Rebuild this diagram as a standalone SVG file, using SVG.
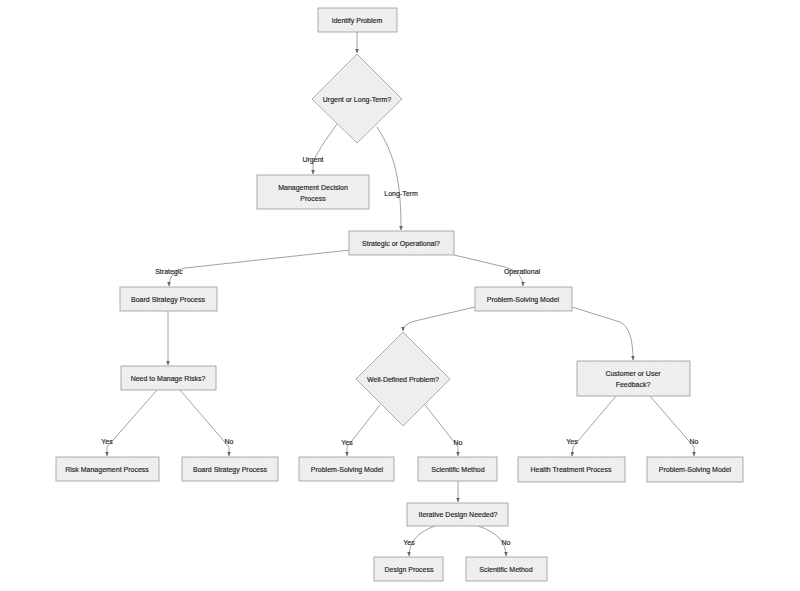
<svg xmlns="http://www.w3.org/2000/svg" width="800" height="591" viewBox="0 0 800 591">
<defs>
<pattern id="hatch" width="3" height="3" patternUnits="userSpaceOnUse" patternTransform="rotate(-45)">
<rect width="3" height="3" fill="#f1f1f1"/>
<line x1="0" y1="0" x2="0" y2="3" stroke="#d9d9d9" stroke-width="0.7"/>
</pattern>
<marker id="arr" viewBox="0 0 10 10" refX="9" refY="5" markerWidth="5.5" markerHeight="5.5" orient="auto">
<path d="M0,1 L10,5 L0,9 z" fill="#666"/>
</marker>
</defs>
<style>
.n rect,.n polygon{fill:url(#hatch);stroke:#9a9a9a;stroke-width:0.8}
.n text,.lb{font-family:"Liberation Sans",Arial,sans-serif;font-size:7px;fill:#222;stroke:#222;stroke-width:0.15;text-anchor:middle;dominant-baseline:central}
.e path{fill:none;stroke:#8a8a8a;stroke-width:0.8;marker-end:url(#arr)}
</style>
<rect width="800" height="591" fill="#fff"/>
<g class="e" id="connectors">
<path d="M357,32 L357,53"/>
<path d="M337,124 Q318,150 313,162 L313,174"/>
<path d="M377,127 C395,155 401,180 401,230"/>
<path d="M350,250 L185,268 Q169,271 169,286"/>
<path d="M454,255 L505,267 Q523,272 523,286"/>
<path d="M168,311 L168,365"/>
<path d="M157,390 L107,447 L107,456"/>
<path d="M180,390 L229,447 L229,456"/>
<path d="M475,307 L415,321 Q403,324 403,331"/>
<path d="M572,307 L620,322 Q633,328 633,360"/>
<path d="M380,405 L347,447 L347,456"/>
<path d="M425,405 L458,447 L458,456"/>
<path d="M616,396 L573,447 L572,456"/>
<path d="M650,396 L694,447 L694,456"/>
<path d="M458,481 L458,502"/>
<path d="M435,526 Q409,535 409,556"/>
<path d="M478,526 Q506,535 506,556"/>
</g>
<g id="edge-labels">
<text class="lb" x="313" y="159">Urgent</text>
<text class="lb" x="401" y="193">Long-Term</text>
<text class="lb" x="169" y="271">Strategic</text>
<text class="lb" x="522" y="271">Operational</text>
<text class="lb" x="107" y="441">Yes</text>
<text class="lb" x="229" y="441">No</text>
<text class="lb" x="347" y="442">Yes</text>
<text class="lb" x="458" y="442">No</text>
<text class="lb" x="572" y="441">Yes</text>
<text class="lb" x="694" y="441">No</text>
<text class="lb" x="409" y="542">Yes</text>
<text class="lb" x="506" y="542">No</text>
</g>
<g class="n" id="identify"><rect x="318" y="8" width="79" height="24"/><text x="357" y="20">Identify Problem</text></g>
<g class="n" id="urgent"><polygon points="357,54 402,99 357,143 312,99"/><text x="357" y="99">Urgent or Long-Term?</text></g>
<g class="n" id="mgmt"><rect x="257" y="175" width="112" height="34"/><text x="313" y="187">Management Decision</text><text x="313" y="198">Process</text></g>
<g class="n" id="stratop"><rect x="349" y="231" width="105" height="24"/><text x="401" y="243">Strategic or Operational?</text></g>
<g class="n" id="board1"><rect x="120" y="287" width="97" height="24"/><text x="168" y="299">Board Strategy Process</text></g>
<g class="n" id="psm1"><rect x="475" y="287" width="97" height="24"/><text x="523" y="299">Problem-Solving Model</text></g>
<g class="n" id="risks"><rect x="121" y="366" width="95" height="24"/><text x="168" y="378">Need to Manage Risks?</text></g>
<g class="n" id="welldef"><polygon points="403,332 450,379 403,426 356,379"/><text x="403" y="379">Well-Defined Problem?</text></g>
<g class="n" id="cust"><rect x="577" y="361" width="113" height="35"/><text x="633" y="373">Customer or User</text><text x="633" y="384">Feedback?</text></g>
<g class="n" id="riskmgmt"><rect x="56" y="457" width="103" height="24"/><text x="107" y="469">Risk Management Process</text></g>
<g class="n" id="board2"><rect x="182" y="457" width="96" height="24"/><text x="230" y="469">Board Strategy Process</text></g>
<g class="n" id="psm2"><rect x="299" y="457" width="95" height="24"/><text x="347" y="469">Problem-Solving Model</text></g>
<g class="n" id="sci1"><rect x="418" y="457" width="79" height="24"/><text x="458" y="469">Scientific Method</text></g>
<g class="n" id="health"><rect x="518" y="457" width="107" height="25"/><text x="571" y="469">Health Treatment Process</text></g>
<g class="n" id="psm3"><rect x="647" y="457" width="96" height="25"/><text x="695" y="469">Problem-Solving Model</text></g>
<g class="n" id="iter"><rect x="407" y="503" width="101" height="23"/><text x="458" y="514">Iterative Design Needed?</text></g>
<g class="n" id="design"><rect x="374" y="557" width="69" height="24"/><text x="409" y="569">Design Process</text></g>
<g class="n" id="sci2"><rect x="466" y="557" width="81" height="24"/><text x="506" y="569">Scientific Method</text></g>
</svg>
